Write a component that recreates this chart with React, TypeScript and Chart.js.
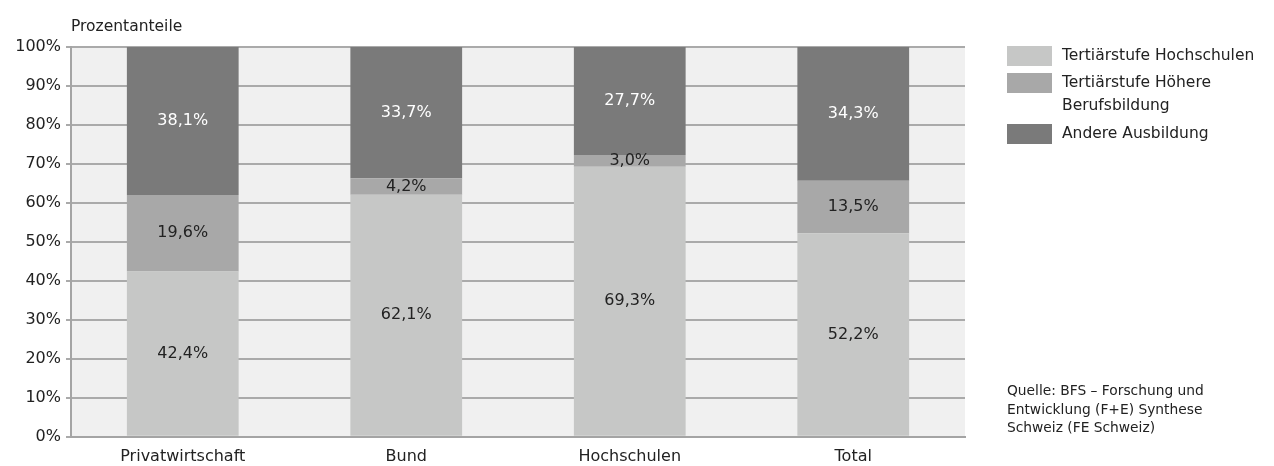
import React, { useEffect, useRef } from "react";
import { Chart, registerables } from "chart.js";

Chart.register(...registerables);

const categories = ["Privatwirtschaft", "Bund", "Hochschulen", "Total"];
const hochschulen = [42.4, 62.1, 69.3, 52.2];
const hoehereBB = [19.6, 4.2, 3.0, 13.5];
const andere = [38.1, 33.7, 27.7, 34.3];
const seriesNames = ["Tertiärstufe Hochschulen", "Tertiärstufe Höhere Berufsbildung", "Andere Ausbildung"];
const colors = ["#c6c7c6", "#a8a8a8", "#7a7a7a"];
const labelColors = ["#222222", "#222222", "#ffffff"];
const yTicks = [0, 10, 20, 30, 40, 50, 60, 70, 80, 90, 100];

const FONT = "'DejaVu Sans', sans-serif";

const bgPlugin = {
  id: "plotBg",
  beforeDraw(chart: any) {
    const { ctx, chartArea } = chart;
    ctx.save();
    ctx.fillStyle = "#f0f0f0";
    ctx.fillRect(chartArea.left, chartArea.top, chartArea.right - chartArea.left, chartArea.bottom - chartArea.top);
    ctx.restore();
  },
};

const labelPlugin = {
  id: "segLabels",
  afterDatasetsDraw(chart: any) {
    const { ctx } = chart;
    ctx.save();
    ctx.font = `16px ${FONT}`;
    ctx.textAlign = "center";
    ctx.textBaseline = "middle";
    chart.data.datasets.forEach((ds: any, di: number) => {
      const meta = chart.getDatasetMeta(di);
      meta.data.forEach((el: any, i: number) => {
        const v = ds.data[i];
        ctx.fillStyle = labelColors[di];
        ctx.fillText(v.toFixed(1).replace(".", ",") + "%", el.x, (el.y + el.base) / 2);
      });
    });
    ctx.restore();
  },
};

export default function App() {
  const ref = useRef<HTMLCanvasElement>(null);
  useEffect(() => {
    const chart = new Chart(ref.current!, {
      type: "bar",
      data: {
        labels: categories,
        datasets: [hochschulen, hoehereBB, andere].map((d, i) => ({
          label: seriesNames[i],
          data: d,
          backgroundColor: colors[i],
          borderWidth: 0,
          categoryPercentage: 1,
          barPercentage: 0.5,
        })),
      },
      options: {
        animation: false,
        responsive: false,
        maintainAspectRatio: false,
        layout: { padding: { left: 0, right: 301, top: 39, bottom: 0 } },
        plugins: { legend: { display: false }, tooltip: { enabled: false } },
        scales: {
          x: {
            stacked: true,
            grid: { display: false, drawTicks: false },
            border: { display: true, color: "#a4a4a4", width: 2 },
            ticks: { padding: 10, color: "#222222", font: { family: FONT, size: 16 } },
          },
          y: {
            stacked: true,
            min: 0,
            max: 100,
            afterFit(scale: any) {
              scale.width = 63;
            },
            afterBuildTicks(scale: any) {
              scale.ticks = yTicks.map((v) => ({ value: v }));
            },
            grid: { color: "#aaaaaa", lineWidth: 2, tickLength: 5, drawTicks: true },
            border: { display: true, color: "#a4a4a4", width: 2 },
            ticks: {
              padding: 5,
              color: "#222222",
              font: { family: FONT, size: 16 },
              callback: (v: any) => v + "%",
            },
          },
        },
      },
      plugins: [bgPlugin, labelPlugin],
    });
    return () => chart.destroy();
  }, []);

  const txt: React.CSSProperties = { position: "absolute", fontFamily: FONT, color: "#222222", whiteSpace: "nowrap" };
  const box = (top: number, c: string): React.CSSProperties => ({
    position: "absolute",
    left: 999,
    top,
    width: 45,
    height: 20,
    background: c,
  });

  return (
    <div style={{ position: "relative", width: 1258, height: 458, overflow: "visible" }}>
      <canvas ref={ref} width={1258} height={468} style={{ display: "block" }} />
      <div style={{ ...txt, left: 63, top: 8, fontSize: 15.5, lineHeight: "20px" }}>Prozentanteile</div>
      <div style={box(38, colors[0])} />
      <div style={box(65, colors[1])} />
      <div style={box(116, colors[2])} />
      <div style={{ ...txt, left: 1054, top: 36, fontSize: 15.5, lineHeight: "23px" }}>{seriesNames[0]}</div>
      <div style={{ ...txt, left: 1054, top: 63, fontSize: 15.5, lineHeight: "23px" }}>
        Tertiärstufe Höhere
        <br />
        Berufsbildung
      </div>
      <div style={{ ...txt, left: 1054, top: 114, fontSize: 15.5, lineHeight: "23px" }}>{seriesNames[2]}</div>
      <div style={{ ...txt, left: 999, top: 373, fontSize: 13.8, lineHeight: "18.5px" }}>
        Quelle: BFS – Forschung und
        <br />
        Entwicklung (F+E) Synthese
        <br />
        Schweiz (FE Schweiz)
      </div>
    </div>
  );
}
